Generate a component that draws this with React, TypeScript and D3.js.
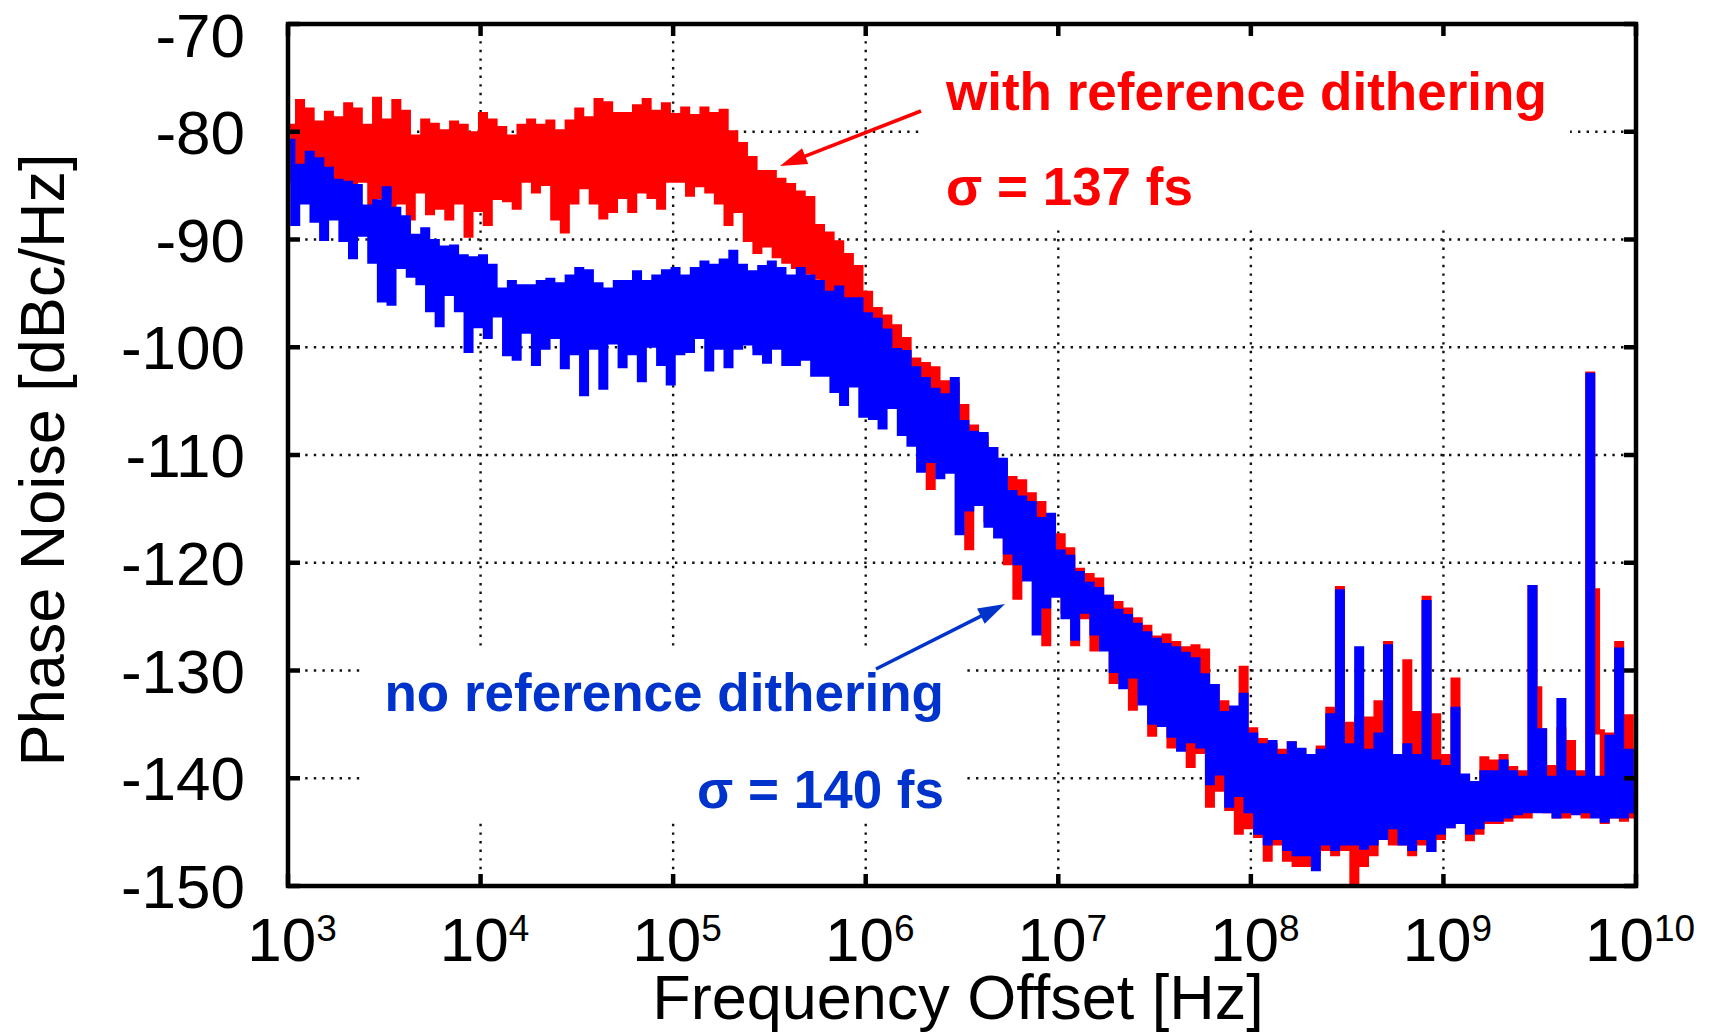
import React from 'react';
import * as d3 from 'd3';

const W = 1713;
const H = 1034;
const M = { left: 288, right: 1636, top: 24, bottom: 886 };
const FONT = '"Liberation Sans", Arial, Helvetica, sans-serif';

// x ticks (decade exponents) and y ticks (dBc/Hz)
const X_EXPONENTS = [3, 4, 5, 6, 7, 8, 9, 10];
const Y_TICKS = [-70, -80, -90, -100, -110, -120, -130, -140, -150];

// measurement grid: log10(f) from 3 with 0.025-decade steps
const LOG_F_START = 3;
const LOG_F_STEP = 0.025;

// Phase noise with reference dithering [dBc/Hz]
const withDithering = [
  -79.5, -84.5, -77.2, -83.0, -78.0, -85.5, -79.2, -84.0, -78.3, -86.0,
  -78.8, -85.0, -77.5, -87.5, -78.0, -84.5, -79.5, -88.8, -77.0, -86.0,
  -79.0, -89.0, -77.2, -86.5, -78.2, -88.0, -80.5, -85.5, -79.0, -87.5,
  -79.4, -87.0, -80.0, -88.0, -79.2, -86.5, -79.5, -89.6, -80.2, -87.2,
  -78.4, -88.5, -79.0, -86.1, -79.7, -86.3, -80.5, -87.0, -79.5, -84.5,
  -79.0, -85.5, -79.5, -84.8, -79.1, -88.0, -80.0, -89.2, -79.1, -86.5,
  -78.0, -85.1, -78.8, -86.5, -77.1, -87.9, -77.4, -87.3, -78.4, -86.0,
  -78.4, -87.3, -77.7, -85.5, -77.1, -86.0, -78.2, -87.0, -77.5, -84.5,
  -78.5, -84.5, -77.9, -85.8, -78.6, -84.9, -77.9, -85.5, -78.4, -86.5,
  -78.1, -88.5, -80.1, -87.3, -81.2, -90.0, -82.5, -91.1, -83.8, -90.5,
  -83.8, -91.5, -84.5, -92.0, -85.0, -92.5, -85.7, -93.0, -86.2, -93.5,
  -88.8, -96.0, -89.5, -96.5, -90.3, -97.0, -91.5, -97.5, -92.6, -98.0,
  -95.0, -101.0, -96.5, -102.0, -97.2, -102.5, -98.1, -103.0, -99.3, -104.0,
  -101.2, -106.0, -101.6, -113.0, -102.0, -108.0, -103.3, -109.5, -103.5, -111.0,
  -105.5, -118.6, -107.4, -114.0, -108.4, -116.0, -109.5, -113.5, -110.8, -120.0,
  -112.2, -123.2, -112.5, -118.0, -113.7, -120.5, -114.5, -127.5, -117.2, -122.0,
  -117.5, -124.5, -118.8, -127.5, -120.7, -125.0, -121.2, -128.0, -121.6, -126.5,
  -123.2, -131.0, -123.8, -130.5, -124.4, -133.5, -125.3, -132.0, -126.0, -135.9,
  -127.0, -134.5, -126.8, -137.0, -127.5, -135.0, -128.0, -138.8, -127.8, -137.5,
  -128.2, -142.5, -131.5, -141.0, -133.0, -142.8, -134.5, -145.0, -129.8, -144.5,
  -135.5, -145.3, -136.5, -147.5, -137.0, -146.0, -137.5, -147.5, -136.8, -148.0,
  -137.5, -148.0, -138.0, -147.0, -137.2, -146.5, -133.6, -147.0, -122.4, -146.5,
  -135.0, -149.7, -134.5, -148.0, -134.5, -147.0, -133.0, -145.5, -127.5, -146.0,
  -138.0, -146.0, -129.2, -147.0, -134.0, -146.0, -123.3, -146.6, -134.2, -145.5,
  -138.0, -144.4, -130.9, -144.0, -140.0, -145.6, -140.5, -145.0, -138.2, -144.0,
  -138.5, -144.0, -138.0, -143.8, -139.1, -143.5, -139.5, -143.5, -122.3, -131.7,
  -135.6, -143.0, -139.0, -143.5, -135.5, -143.5, -136.7, -143.0, -139.5, -143.5,
  -102.5, -122.6, -135.7, -144.0, -136.0, -143.5, -127.5, -143.8, -134.3, -143.5,
  -140.5,
];

// Phase noise without reference dithering [dBc/Hz]
const noDithering = [
  -80.9, -88.5, -83.2, -86.5, -82.0, -88.2, -82.6, -89.9, -83.5, -88.0,
  -84.6, -90.0, -84.8, -91.6, -85.1, -89.5, -87.0, -92.0, -86.5, -95.6,
  -85.3, -95.9, -87.2, -92.5, -88.0, -93.3, -89.7, -94.0, -89.1, -96.5,
  -90.2, -97.9, -90.8, -95.0, -90.7, -96.5, -91.6, -100.3, -91.8, -98.0,
  -91.6, -99.0, -92.5, -97.0, -94.7, -100.6, -94.0, -101.0, -94.4, -98.5,
  -94.4, -101.5, -94.0, -100.0, -93.8, -99.0, -94.2, -101.8, -93.5, -100.5,
  -92.8, -104.3, -93.0, -100.0, -94.2, -103.7, -94.7, -99.5, -94.0, -101.7,
  -94.0, -100.5, -93.1, -103.0, -94.0, -99.8, -93.5, -101.5, -93.0, -103.3,
  -92.8, -100.5, -93.5, -100.3, -92.8, -99.0, -92.2, -102.0, -92.5, -100.0,
  -92.0, -101.7, -91.2, -100.0, -92.5, -99.6, -93.1, -100.5, -92.6, -101.3,
  -92.2, -100.0, -92.8, -101.5, -93.5, -101.5, -92.8, -101.0, -93.5, -102.5,
  -94.0, -102.5, -95.0, -104.0, -94.5, -105.2, -95.6, -103.5, -95.6, -106.3,
  -97.0, -106.5, -97.5, -107.4, -98.5, -105.5, -100.3, -108.0, -100.5, -109.0,
  -102.0, -111.4, -103.0, -110.5, -104.0, -112.0, -104.5, -111.5, -103.0, -117.2,
  -107.0, -115.0, -108.0, -114.5, -108.1, -116.5, -109.5, -117.5, -110.5, -119.0,
  -113.5, -120.0, -114.0, -121.5, -114.5, -126.5, -116.0, -124.0, -115.6, -123.0,
  -119.0, -125.0, -119.5, -127.0, -121.0, -124.5, -122.0, -126.5, -122.5, -128.0,
  -123.2, -130.0, -124.5, -131.5, -125.0, -130.5, -125.8, -133.0, -126.6, -134.8,
  -127.2, -135.0, -127.7, -136.0, -128.0, -137.3, -128.5, -136.5, -129.0, -137.0,
  -130.5, -140.4, -131.5, -139.5, -134.0, -142.5, -133.5, -141.5, -132.3, -143.0,
  -136.0, -145.0, -137.0, -146.0, -136.7, -145.5, -138.0, -146.5, -136.8, -147.0,
  -137.4, -147.0, -138.0, -148.4, -137.5, -146.0, -134.2, -146.5, -122.7, -146.0,
  -137.0, -146.0, -128.0, -146.4, -137.5, -146.0, -136.0, -145.5, -127.8, -144.5,
  -138.0, -146.0, -137.0, -146.5, -138.0, -145.5, -123.7, -146.6, -138.5, -145.0,
  -139.0, -144.4, -133.6, -144.0, -139.8, -145.0, -140.5, -144.5, -139.5, -143.8,
  -139.5, -143.8, -138.5, -143.5, -139.5, -143.2, -140.0, -143.0, -122.3, -143.0,
  -135.6, -143.0, -140.0, -143.5, -132.8, -143.0, -139.5, -143.2, -140.0, -143.0,
  -102.6, -143.5, -140.0, -143.9, -136.2, -143.5, -128.1, -143.5, -137.5, -143.0,
  -141.0,
];

const RED = '#ff0000';
const BLUE = '#0000ff';
const BLUE_TEXT = '#0033cc';

function Arrow({ x1, y1, x2, y2, color }: { x1: number; y1: number; x2: number; y2: number; color: string }) {
  const ang = Math.atan2(y2 - y1, x2 - x1);
  const headLen = 27;
  const headHalf = 8.5;
  const bx = x2 - headLen * Math.cos(ang);
  const by = y2 - headLen * Math.sin(ang);
  const px = -Math.sin(ang) * headHalf;
  const py = Math.cos(ang) * headHalf;
  return (
    <g>
      <line x1={x1} y1={y1} x2={bx + 4 * Math.cos(ang)} y2={by + 4 * Math.sin(ang)} stroke={color} strokeWidth={3.5} />
      <polygon points={`${x2},${y2} ${bx + px},${by + py} ${bx - px},${by - py}`} fill={color} />
    </g>
  );
}

export default function App() {
  const x = d3.scaleLog().domain([1e3, 1e10]).range([M.left, M.right]);
  const y = d3.scaleLinear().domain([-150, -70]).range([M.bottom, M.top]);
  const freqOf = (i: number) => Math.pow(10, LOG_F_START + LOG_F_STEP * i);

  const line = d3
    .line<number>()
    .x((_, i) => x(freqOf(i)))
    .y((d) => y(d))
    .curve(d3.curveStepAfter);

  const gridX = X_EXPONENTS.slice(1, -1);
  const gridY = Y_TICKS.slice(1, -1);
  const tickLen = 12;
  const axisW = 4.5;

  return (
    <svg
      width={W}
      height={H}
      viewBox={`0 0 ${W} ${H}`}
      style={{ position: 'absolute', left: 0, top: 0, background: '#fff' }}
      fontFamily={FONT}
    >
      <defs>
        <clipPath id="plotClip">
          <rect x={M.left} y={M.top} width={M.right - M.left} height={M.bottom - M.top} />
        </clipPath>
      </defs>
      <rect x={0} y={0} width={W} height={H} fill="#fff" />

      {/* grid */}
      <g stroke="#111" strokeWidth={2.4} strokeDasharray="2.4 6.2" fill="none">
        {gridX.map((e) => (
          <line key={'gx' + e} x1={x(Math.pow(10, e))} x2={x(Math.pow(10, e))} y1={M.top} y2={M.bottom} />
        ))}
        {gridY.map((v) => (
          <line key={'gy' + v} x1={M.left} x2={M.right} y1={y(v)} y2={y(v)} />
        ))}
      </g>

      {/* annotation backgrounds */}
      <rect x={922} y={27} width={648} height={203} fill="#fff" />
      <rect x={362} y={648} width={603} height={174} fill="#fff" />

      {/* data */}
      <g clipPath="url(#plotClip)" fill="none" strokeLinejoin="miter">
        <path d={line(withDithering) || ''} stroke={RED} strokeWidth={5.2} />
        <path d={line(noDithering) || ''} stroke={BLUE} strokeWidth={5.2} />
      </g>

      {/* frame */}
      <rect
        x={M.left}
        y={M.top}
        width={M.right - M.left}
        height={M.bottom - M.top}
        fill="none"
        stroke="#000"
        strokeWidth={axisW}
      />

      {/* ticks */}
      <g stroke="#000" strokeWidth={axisW}>
        {X_EXPONENTS.map((e) => {
          const px = x(Math.pow(10, e));
          return (
            <g key={'tx' + e}>
              <line x1={px} x2={px} y1={M.bottom} y2={M.bottom - tickLen} />
              <line x1={px} x2={px} y1={M.top} y2={M.top + tickLen} />
            </g>
          );
        })}
        {Y_TICKS.map((v) => (
          <g key={'ty' + v}>
            <line x1={M.left} x2={M.left + tickLen} y1={y(v)} y2={y(v)} />
            <line x1={M.right} x2={M.right - tickLen} y1={y(v)} y2={y(v)} />
          </g>
        ))}
      </g>

      {/* tick labels */}
      <g fill="#000" fontSize={62}>
        {Y_TICKS.map((v, i) => (
          <text key={'ly' + v} x={245} y={y(v) + 22 + (i === 0 ? 11 : 0)} textAnchor="end">
            {String(v)}
          </text>
        ))}
        {X_EXPONENTS.map((e) => (
          <text key={'lx' + e} x={x(Math.pow(10, e)) + 4} y={961} textAnchor="middle">
            10
            <tspan dy={-20} fontSize={37}>
              {String(e)}
            </tspan>
          </text>
        ))}
      </g>

      {/* axis titles */}
      <text x={958} y={1019} textAnchor="middle" fontSize={63} fill="#000">
        Frequency Offset [Hz]
      </text>
      <text transform="translate(64, 460) rotate(-90)" textAnchor="middle" fontSize={63} fill="#000">
        Phase Noise [dBc/Hz]
      </text>

      {/* annotations */}
      <g fontWeight="bold" fontSize={53}>
        <text x={946} y={110} fill={RED}>with reference dithering</text>
        <text x={946} y={205} fill={RED}>σ = 137 fs</text>
        <text x={944} y={711} fill={BLUE_TEXT} textAnchor="end">no reference dithering</text>
        <text x={944} y={808} fill={BLUE_TEXT} textAnchor="end">σ = 140 fs</text>
      </g>
      <Arrow x1={921} y1={111} x2={780} y2={166} color={RED} />
      <Arrow x1={876} y1={669} x2={1005} y2={604} color={BLUE_TEXT} />
    </svg>
  );
}
